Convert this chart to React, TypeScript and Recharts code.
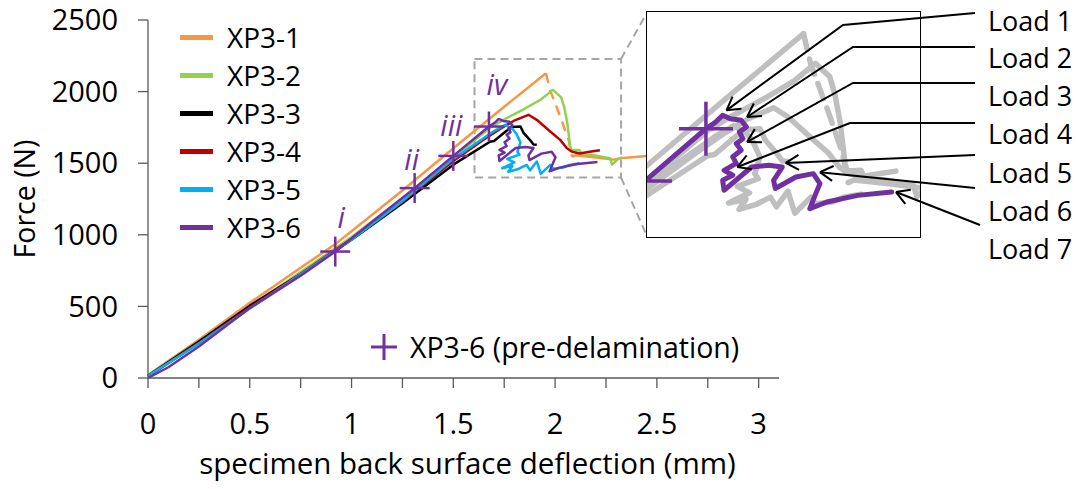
import React from 'react';
import {
  ComposedChart,
  Line,
  Scatter,
  XAxis,
  YAxis,
  ReferenceArea,
  ReferenceLine,
  ReferenceDot,
} from 'recharts';

const FONT = '"Open Sans", Lato, sans-serif';
const AXIS = '#595959';
const GRAY = '#BFBFBF';
const PURPLE = '#7030A0';

const SERIES = ['XP3-1', 'XP3-2', 'XP3-3', 'XP3-4', 'XP3-5', 'XP3-6'];
const COLORS = ['#F79646', '#92D050', '#000000', '#C00000', '#00B0F0', '#7030A0'];

const X_TICKS = [0, 0.25, 0.5, 0.75, 1, 1.25, 1.5, 1.75, 2, 2.25, 2.5, 2.75, 3];
const Y_TICKS = [0, 500, 1000, 1500, 2000, 2500];

// XP3-1: rise, sparse drop after the peak (shows dashed), plateau
const XP3_1_RISE_X = [0, 0.25, 0.5, 0.75, 0.92, 1.0, 1.25, 1.5, 1.75, 1.955];
const XP3_1_RISE_Y = [20, 267, 525, 770, 935, 1025, 1310, 1605, 1894, 2128];
const XP3_1_DROP_X = [1.955, 1.975, 2.025, 2.066, 2.083];
const XP3_1_DROP_Y = [2128, 2012, 1826, 1663, 1545];
const XP3_1_TAIL_X = [2.083, 2.1, 2.2, 2.29, 2.32, 2.45, 2.5];
const XP3_1_TAIL_Y = [1545, 1555, 1540, 1525, 1535, 1551, 1555];

const XP3_2_X = [0, 0.25, 0.5, 0.75, 1, 1.25, 1.5, 1.68, 1.746, 1.85, 1.927, 1.989, 2.03, 2.045, 2.06, 2.074, 2.08, 2.12, 2.13, 2.19, 2.27, 2.28, 2.31, 2.33];
const XP3_2_Y = [15, 250, 500, 740, 985, 1255, 1540, 1748, 1803, 1880, 1942, 2012, 1960, 1890, 1780, 1620, 1590, 1593, 1560, 1555, 1535, 1490, 1530, 1540];

const XP3_3_X = [0, 0.25, 0.5, 0.75, 1, 1.25, 1.5, 1.68, 1.7, 1.76, 1.79, 1.83, 1.845, 1.876, 1.894, 1.91];
const XP3_3_Y = [15, 255, 505, 725, 965, 1220, 1490, 1650, 1655, 1725, 1752, 1756, 1712, 1663, 1630, 1628];

const XP3_4_X = [0, 0.25, 0.5, 0.75, 1, 1.25, 1.5, 1.65, 1.73, 1.796, 1.869, 1.91, 1.976, 2.025, 2.058, 2.083, 2.12, 2.17, 2.22];
const XP3_4_Y = [10, 245, 492, 728, 972, 1232, 1515, 1665, 1740, 1795, 1838, 1803, 1721, 1663, 1605, 1581, 1568, 1580, 1590];

const XP3_5_X = [0, 0.25, 0.5, 0.75, 1, 1.25, 1.5, 1.7, 1.755, 1.79, 1.81, 1.83, 1.815, 1.825, 1.765, 1.8, 1.74, 1.79, 1.77, 1.82, 1.86, 1.877, 1.91, 1.93, 1.976, 1.99, 2.04, 2.07, 2.12];
const XP3_5_Y = [15, 240, 485, 725, 965, 1235, 1530, 1725, 1768, 1740, 1705, 1645, 1580, 1560, 1530, 1505, 1465, 1480, 1440, 1460, 1488, 1450, 1512, 1425, 1488, 1462, 1470, 1488, 1500];

const XP3_6_X = [0, 0.1, 0.25, 0.5, 0.75, 0.92, 1.1, 1.31, 1.5, 1.675, 1.703, 1.723, 1.745, 1.776, 1.791, 1.771, 1.781, 1.762, 1.776, 1.752, 1.762, 1.727, 1.752, 1.723, 1.727, 1.806, 1.855, 1.894, 1.869, 1.874, 1.933, 1.983, 2.002, 1.988, 1.973, 2.022, 2.11, 2.208];
const XP3_6_Y = [0, 75, 220, 488, 715, 883, 1090, 1326, 1551, 1756, 1782, 1809, 1795, 1789, 1763, 1743, 1717, 1698, 1672, 1646, 1620, 1593, 1574, 1554, 1515, 1606, 1613, 1606, 1554, 1522, 1567, 1580, 1541, 1495, 1443, 1469, 1495, 1508];

// XP3-6 pre-delamination points
const PRE_X = [0.92, 1.31, 1.5, 1.675];
const PRE_Y = [883, 1326, 1551, 1756];
const PRE_LABELS = ['i', 'ii', 'iii', 'iv'];
const PRE_LABEL_DX = [6, -3, -2, 8];
const PRE_LABEL_DY = [-35, -30, -31, -43];

// load points marked in the zoomed view
const LOAD_LABELS = ['Load 1', 'Load 2', 'Load 3', 'Load 4', 'Load 5', 'Load 6', 'Load 7'];
const LOAD_X = [1.734, 1.793, 1.793, 1.765, 1.904, 2.002, 2.22];
const LOAD_Y = [1828, 1802, 1704, 1606, 1622, 1586, 1508];
const LOAD_TEXT_Y = [20, 57, 95, 133, 172, 210, 248];
const LOAD_ROUTES = [
  [[975, 13], [843, 25]],
  [[975, 47], [853, 47]],
  [[975, 83], [853, 83]],
  [[975, 123], [850, 123]],
  [[975, 155]],
  [[975, 188]],
  [[980, 225]],
];

// zoom window in the main chart, and the zoomed axes
const BOX_X = [1.604, 2.324];
const BOX_Y = [1400, 2228];
const ZOOM_X = [1.506, 2.289];
const ZOOM_Y = [1332, 2213];

const pts = (xs: number[], ys: number[]) => xs.map((x, i) => ({ x, y: ys[i] }));

const LINES = [
  { id: 'a1', s: 0, data: pts(XP3_1_RISE_X, XP3_1_RISE_Y) },
  { id: 'a2', s: 0, data: pts(XP3_1_DROP_X, XP3_1_DROP_Y), dash: '10 7' },
  { id: 'a3', s: 0, data: pts(XP3_1_TAIL_X, XP3_1_TAIL_Y) },
  { id: 'b', s: 1, data: pts(XP3_2_X, XP3_2_Y) },
  { id: 'c', s: 2, data: pts(XP3_3_X, XP3_3_Y) },
  { id: 'd', s: 3, data: pts(XP3_4_X, XP3_4_Y) },
  { id: 'e', s: 4, data: pts(XP3_5_X, XP3_5_Y) },
  { id: 'f', s: 5, data: pts(XP3_6_X, XP3_6_Y) },
];

const preData = PRE_X.map((x, i) => ({ x, y: PRE_Y[i], i }));

const renderPre = (p: any) => {
  const { cx, cy } = p;
  const i = p.payload?.i ?? p.index ?? 0;
  return (
    <g>
      <line x1={cx - 15} x2={cx + 15} y1={cy} y2={cy} stroke={PURPLE} strokeWidth={2.5} />
      <line x1={cx} x2={cx} y1={cy - 15} y2={cy + 15} stroke={PURPLE} strokeWidth={2.5} />
      <text
        x={cx + PRE_LABEL_DX[i]}
        y={cy + PRE_LABEL_DY[i]}
        textAnchor="middle"
        dominantBaseline="central"
        fontStyle="italic"
        fontSize={29}
        fontFamily={FONT}
        fill={PURPLE}
      >
        {PRE_LABELS[i]}
      </text>
    </g>
  );
};

const renderZoomPre = (p: any) => {
  const { cx, cy } = p;
  return (
    <g>
      <line x1={cx - 27} x2={cx + 27} y1={cy} y2={cy} stroke={PURPLE} strokeWidth={3.5} />
      <line x1={cx} x2={cx} y1={cy - 27} y2={cy + 27} stroke={PURPLE} strokeWidth={3.5} />
    </g>
  );
};

const LoadArrow = ({ cx, cy, i }: { cx: number; cy: number; i: number }) => {
  const route = LOAD_ROUTES[i];
  const all = [...route, [cx, cy]];
  const [px, py] = route[route.length - 1];
  const a = Math.atan2(cy - py, cx - px);
  const L = 15;
  const t = Math.PI / 6;
  return (
    <g>
      <polyline points={all.map((q) => q.join(',')).join(' ')} fill="none" stroke="#000" strokeWidth={2} />
      <line x1={cx} y1={cy} x2={cx - L * Math.cos(a - t)} y2={cy - L * Math.sin(a - t)} stroke="#000" strokeWidth={2} />
      <line x1={cx} y1={cy} x2={cx - L * Math.cos(a + t)} y2={cy - L * Math.sin(a + t)} stroke="#000" strokeWidth={2} />
      <text x={988} y={LOAD_TEXT_Y[i]} dominantBaseline="central" fontSize={27} fontFamily={FONT} fill="#000">
        {LOAD_LABELS[i]}
      </text>
    </g>
  );
};

const xLabel = (p: any) => {
  const vb = p?.viewBox ?? { x: 148, y: 378, width: 631 };
  return (
    <text x={vb.x + vb.width / 2 + 4} y={vb.y + 96} textAnchor="middle" fontSize={29.5} fontFamily={FONT} fill="#000">
      specimen back surface deflection (mm)
    </text>
  );
};

const yLabel = () => (
  <text
    x={24}
    y={199}
    transform="rotate(-90 24 199)"
    textAnchor="middle"
    dominantBaseline="central"
    fontSize={28.5}
    fontFamily={FONT}
    fill="#000"
  >
    Force (N)
  </text>
);

const fmtX = (v: number) => (Math.round(v * 100) % 50 === 0 ? String(v) : '');

export default function App() {
  const tick = { fill: '#000', fontSize: 29, fontFamily: FONT };
  return (
    <div style={{ position: 'absolute', left: 0, top: 0, width: 1076, height: 489, background: '#fff', fontFamily: FONT }}>
      <ComposedChart width={1076} height={489} margin={{ top: 20, right: 297, bottom: 0, left: 0 }}>
        <XAxis
          type="number"
          dataKey="x"
          domain={[0, 3.1]}
          ticks={X_TICKS}
          interval={0}
          tickFormatter={fmtX}
          height={111}
          tickSize={10}
          tickMargin={25}
          stroke={AXIS}
          strokeWidth={1.3}
          tick={tick}
          label={xLabel}
        />
        <YAxis
          type="number"
          dataKey="y"
          domain={[0, 2500]}
          ticks={Y_TICKS}
          interval={0}
          width={148}
          tickSize={10}
          tickMargin={20}
          stroke={AXIS}
          strokeWidth={1.3}
          tick={tick}
          label={yLabel}
        />
        <ReferenceArea
          x1={BOX_X[0]}
          x2={BOX_X[1]}
          y1={BOX_Y[0]}
          y2={BOX_Y[1]}
          fill="none"
          stroke="#A6A6A6"
          strokeWidth={2}
          strokeDasharray="8 5"
          ifOverflow="visible"
        />
        <ReferenceLine
          segment={[{ x: BOX_X[1], y: BOX_Y[1] }, { x: 2.453, y: 2556 }]}
          stroke="#A6A6A6"
          strokeWidth={2}
          strokeDasharray="8 5"
          ifOverflow="visible"
        />
        <ReferenceLine
          segment={[{ x: BOX_X[1], y: BOX_Y[0] }, { x: 2.453, y: 986 }]}
          stroke="#A6A6A6"
          strokeWidth={2}
          strokeDasharray="8 5"
          ifOverflow="visible"
        />
        {LINES.map((l) => (
          <Line
            key={l.id}
            data={l.data}
            dataKey="y"
            type="linear"
            stroke={COLORS[l.s]}
            strokeWidth={2.5}
            strokeDasharray={l.dash}
            strokeLinejoin="round"
            dot={false}
            activeDot={false}
            legendType="none"
            isAnimationActive={false}
          />
        ))}
        <Scatter data={preData} shape={renderPre} legendType="none" isAnimationActive={false} />
      </ComposedChart>

      {/* series legend */}
      <div style={{ position: 'absolute', left: 180, top: 18 }}>
        {SERIES.map((name, i) => (
          <div key={name} style={{ display: 'flex', alignItems: 'center', height: 38 }}>
            <div style={{ width: 33, height: 5, background: COLORS[i] }} />
            <span style={{ marginLeft: 14, fontSize: 28, color: '#000', lineHeight: '38px' }}>{name}</span>
          </div>
        ))}
      </div>
      <div style={{ position: 'absolute', left: 370, top: 328, display: 'flex', alignItems: 'center', height: 38 }}>
        <svg width={28} height={28}>
          <line x1={1} x2={27} y1={14} y2={14} stroke={PURPLE} strokeWidth={3} />
          <line x1={14} x2={14} y1={1} y2={27} stroke={PURPLE} strokeWidth={3} />
        </svg>
        <span style={{ marginLeft: 12, fontSize: 28.5, color: '#000' }}>XP3-6 (pre-delamination)</span>
      </div>

      {/* zoomed view: frame, clipped plot, then leaders */}
      <div
        style={{
          position: 'absolute',
          left: 646,
          top: 11,
          width: 275,
          height: 227,
          border: '1.5px solid #000',
          boxSizing: 'border-box',
          background: '#fff',
        }}
      />
      <div style={{ position: 'absolute', left: 647, top: 12, width: 273, height: 225, overflow: 'hidden' }}>
        <ComposedChart width={273} height={225} margin={{ top: 0, right: 0, bottom: 0, left: 0 }}>
          <XAxis type="number" dataKey="x" domain={ZOOM_X} allowDataOverflow hide />
          <YAxis type="number" dataKey="y" domain={ZOOM_Y} allowDataOverflow hide />
          {LINES.filter((l) => l.s !== 5).map((l) => (
            <Line
              key={l.id}
              data={l.data}
              dataKey="y"
              type="linear"
              stroke={GRAY}
              strokeWidth={5.5}
              strokeDasharray={l.dash ? '16 10' : undefined}
              strokeLinejoin="round"
              strokeLinecap="round"
              dot={false}
              activeDot={false}
              legendType="none"
              isAnimationActive={false}
            />
          ))}
          {LINES.filter((l) => l.s === 5).map((l) => (
            <Line
              key={l.id}
              data={l.data}
              dataKey="y"
              type="linear"
              stroke={PURPLE}
              strokeWidth={5}
              strokeLinejoin="round"
              strokeLinecap="round"
              dot={false}
              activeDot={false}
              legendType="none"
              isAnimationActive={false}
            />
          ))}
          <Scatter data={preData} shape={renderZoomPre} legendType="none" isAnimationActive={false} />
        </ComposedChart>
      </div>
      <div style={{ position: 'absolute', left: 0, top: 0 }}>
        <ComposedChart width={1076} height={489} margin={{ top: 12, right: 156, bottom: 252, left: 647 }}>
          <XAxis type="number" dataKey="x" domain={ZOOM_X} allowDataOverflow hide />
          <YAxis type="number" dataKey="y" domain={ZOOM_Y} allowDataOverflow hide />
          {LOAD_X.map((x, i) => (
            <ReferenceDot
              key={LOAD_LABELS[i]}
              x={x}
              y={LOAD_Y[i]}
              r={0}
              ifOverflow="visible"
              shape={(p: any) => <LoadArrow cx={p.cx} cy={p.cy} i={i} />}
            />
          ))}
        </ComposedChart>
      </div>
    </div>
  );
}
